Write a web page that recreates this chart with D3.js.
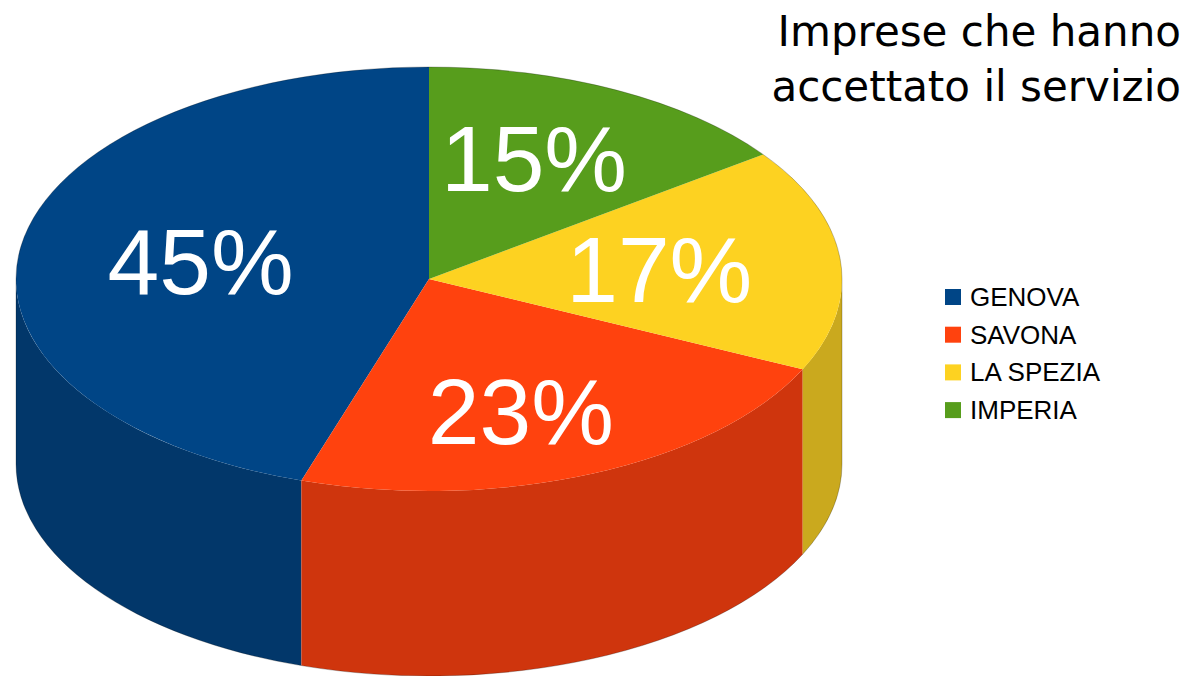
<!DOCTYPE html>
<html>
<head>
<meta charset="utf-8">
<script src="https://cdn.jsdelivr.net/npm/d3@7"></script>
<style>
  html, body { margin: 0; padding: 0; background: #ffffff; }
  svg { display: block; }
</style>
</head>
<body>
<svg id="chart" width="1203" height="676"></svg>
<script>
// Data
const categories = ["GENOVA", "SAVONA", "LA SPEZIA", "IMPERIA"];
const values = [45, 23, 17, 15];
const labels = ["45%", "23%", "17%", "15%"];
const titleLines = ["Imprese che hanno", "accettato il servizio"];

// Colours: top faces and darker side walls
const topColors = ["#004586", "#ff420e", "#fdd221", "#579d1c"];
const sideColors = ["#02376a", "#cf350d", "#caa91e", "#467e16"];

const W = 1203, H = 676;
const cx = 429, cy = 279;   // centre of the top ellipse
const rx = 413, ry = 212;   // ellipse radii
const depth = 185;          // height of the cylinder wall

const svg = d3.select("#chart");

const rows = categories.map((c, i) => ({ name: c, value: values[i], label: labels[i], i }));

// Counter-clockwise layout starting at twelve o'clock
const pie = d3.pie().sort(null).value(d => d.value).startAngle(2 * Math.PI).endAngle(0);
const arcs = pie(rows);

const px = a => cx + rx * Math.sin(a);
const py = (a, dz = 0) => cy - ry * Math.cos(a) + dz;

// Side walls: only the front half (from 3 o'clock round to 9 o'clock) is visible
const frontLo = Math.PI / 2, frontHi = 3 * Math.PI / 2;
const sides = svg.append("g");
arcs.forEach(a => {
  const lo = Math.max(Math.min(a.startAngle, a.endAngle), frontLo);
  const hi = Math.min(Math.max(a.startAngle, a.endAngle), frontHi);
  if (hi <= lo) return;
  const large = hi - lo > Math.PI ? 1 : 0;
  const d = `M${px(lo)},${py(lo)}` +
    `A${rx},${ry} 0 ${large} 1 ${px(hi)},${py(hi)}` +
    `L${px(hi)},${py(hi, depth)}` +
    `A${rx},${ry} 0 ${large} 0 ${px(lo)},${py(lo, depth)}Z`;
  sides.append("path")
    .attr("d", d)
    .attr("fill", sideColors[a.data.i]);
});

// Top faces: circular arcs squashed into the ellipse
const arc = d3.arc().innerRadius(0).outerRadius(rx);
const topFaces = svg.append("g")
  .attr("transform", `translate(${cx},${cy}) scale(1,${ry / rx})`);
topFaces.selectAll("path")
  .data(arcs)
  .join("path")
  .attr("d", arc)
  .attr("fill", d => topColors[d.data.i]);

// Thin rim around the silhouette
const rim = `M${px(0)},${py(0)}` +
  `A${rx},${ry} 0 0 1 ${px(frontLo)},${py(frontLo)}` +
  `L${px(frontLo)},${py(frontLo, depth)}` +
  `A${rx},${ry} 0 0 1 ${px(frontHi)},${py(frontHi, depth)}` +
  `L${px(frontHi)},${py(frontHi)}` +
  `A${rx},${ry} 0 0 1 ${px(0)},${py(0)}Z`;
svg.append("path")
  .attr("d", rim)
  .attr("fill", "none")
  .attr("stroke", "#000")
  .attr("stroke-opacity", 0.3)
  .attr("stroke-width", 0.8);

// Percentage labels placed inside each slice
const kx = 0.56, ky = 0.66;
const mid = d => (d.startAngle + d.endAngle) / 2;
svg.append("g").selectAll("text")
  .data(arcs)
  .join("text")
  .attr("x", d => cx + rx * kx * Math.sin(mid(d)))
  .attr("y", d => cy + 3 - ry * ky * Math.cos(mid(d)))
  .attr("dy", "0.36em")
  .attr("text-anchor", "middle")
  .attr("font-family", "'Liberation Sans', Arial, sans-serif")
  .attr("font-size", 93)
  .attr("fill", "#ffffff")
  .text(d => d.data.label);

// Title, right aligned
svg.append("g").selectAll("text")
  .data(titleLines)
  .join("text")
  .attr("x", 1181)
  .attr("y", (d, i) => 46 + i * 55)
  .attr("text-anchor", "end")
  .attr("font-family", "'DejaVu Sans', Verdana, sans-serif")
  .attr("font-size", 42)
  .attr("fill", "#000000")
  .text(d => d);

// Legend
const legend = svg.append("g").attr("transform", "translate(945,289)");
const item = legend.selectAll("g")
  .data(rows)
  .join("g")
  .attr("transform", (d, i) => `translate(0,${i * 37.7})`);
item.append("rect")
  .attr("width", 16).attr("height", 16)
  .attr("fill", d => topColors[d.i]);
item.append("text")
  .attr("x", 25)
  .attr("y", 17)
  .attr("font-family", "'Liberation Sans', Arial, sans-serif")
  .attr("font-size", 26)
  .attr("fill", "#000000")
  .text(d => d.name);
</script>
</body>
</html>
